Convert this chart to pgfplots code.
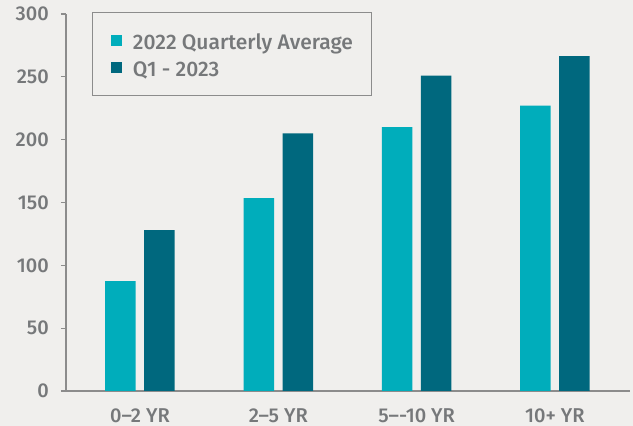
\documentclass[border=0pt]{standalone}
\usepackage{fontspec}
\setmainfont{Fira Sans}[UprightFont={* Medium}]
\usepackage{pgfplots}
\pgfplotsset{compat=1.18}
\definecolor{bg}{HTML}{F0EFED}
\definecolor{cyanbar}{HTML}{00ADBB}
\definecolor{darkbar}{HTML}{00687E}
\definecolor{txtgray}{HTML}{76787A}
\definecolor{axgray}{HTML}{8C8C8C}
\begin{document}
\begin{tikzpicture}[x=1pt,y=1pt]
\fill[bg] (-66,-35) rectangle (567,391);
\begin{axis}[
  at={(0,0)}, anchor=south west,
  scale only axis, width=564pt, height=377pt,
  xmin=-0.535, xmax=3.543, ymin=0, ymax=300,
  ybar=8.5pt, bar width=30.5pt,
  axis x line*=bottom, axis y line*=left,
  axis line style={draw=axgray, line width=1.2pt},
  xtick={0,1,2,3},
  xticklabels={0–2 YR, 2–5 YR, 5–{}-10 YR, 10+ YR},
  xtick style={draw=none},
  ytick={0,50,100,150,200,250,300},
  ytick style={draw=axgray, line width=1.2pt},
  tick align=outside, major tick length=5pt,
  /pgf/number format/assume math mode=true,
  tick label style={font=\fontsize{20}{24}\selectfont, text=txtgray},
  yticklabel style={inner sep=0pt, xshift=-12pt},
  xticklabel style={inner sep=0pt, yshift=-12pt},
  legend style={at={(axis description cs:0.0461,1.0053)}, anchor=north west,
    draw=axgray, line width=1pt, fill=bg, text=txtgray,
    font=\fontsize{21}{25}\selectfont,
    inner xsep=18.5pt, inner ysep=14pt, row sep=0pt,
    nodes={inner sep=0pt, text height=22.5pt, text depth=5pt},
    /tikz/every odd column/.append style={column sep=11pt}},
  legend cell align=left,
  legend image code/.code={\fill[#1,draw=none] (0pt,-5.5pt) rectangle (11pt,5.5pt);},
]
\addplot[fill=cyanbar, draw=none] coordinates {(0,87.5) (1,153.5) (2,210) (3,227)};
\addplot[fill=darkbar, draw=none] coordinates {(0,128) (1,205) (2,251) (3,266.5)};
\legend{2022 Quarterly Average, Q1 - 2023}
\end{axis}
\end{tikzpicture}
\end{document}
